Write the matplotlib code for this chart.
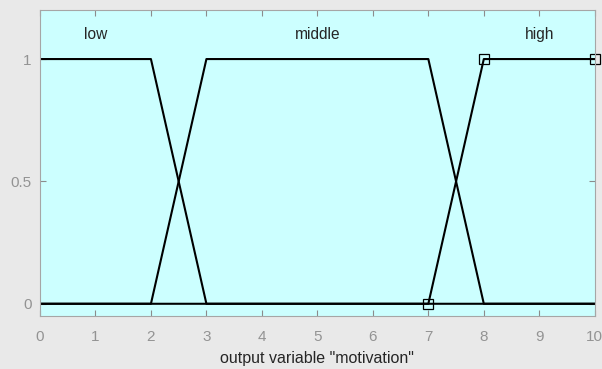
import matplotlib
matplotlib.use("Agg")
import matplotlib.pyplot as plt

# membership functions of output "motivation"
low_x = [0, 2, 3, 10]
low_y = [1, 1, 0, 0]
middle_x = [0, 2, 3, 7, 8, 10]
middle_y = [0, 0, 1, 1, 0, 0]
high_x = [0, 7, 8, 10]
high_y = [0, 0, 1, 1]
high_mark_x = [7, 8, 10]
high_mark_y = [0, 1, 1]

mf_names = ["low", "middle", "high"]
name_x = [1, 5, 9]
name_y = 1.1

xticks = list(range(0, 11))
yticks = [0, 0.5, 1]

plt.rcParams["font.family"] = ["Liberation Sans", "DejaVu Sans"]

fig = plt.figure(figsize=(6.02, 3.69), dpi=100, facecolor="#e9e9e9")
ax = fig.add_axes([0.0664, 0.1436, 0.9216, 0.829])
ax.set_facecolor("#ccffff")

ax.plot(low_x, low_y, color="k", lw=1.5)
ax.plot(middle_x, middle_y, color="k", lw=1.5)
ax.plot(high_x, high_y, color="k", lw=1.5)
ax.plot(high_mark_x, high_mark_y, ls="none", marker="s", ms=6.5,
        mfc="none", mec="k", mew=0.9, clip_on=False)

for name, xx in zip(mf_names, name_x):
    ax.text(xx, name_y, name, ha="center", va="center", fontsize=11.2, color="#262626")

ax.set_xlim(0, 10)
ax.set_ylim(-0.05, 1.2)
ax.set_xticks(xticks)
ax.set_yticks(yticks)
ax.set_yticklabels(["0", "0.5", "1"])
ax.tick_params(direction="in", length=4, color="#8c8c8c", labelcolor="#939393",
               labelsize=11, top=True, right=True)
ax.tick_params(axis="x", pad=10)
ax.tick_params(axis="y", pad=6)
for s in ax.spines.values():
    s.set_color("#a6a6a6")
    s.set_linewidth(0.8)

ax.set_xlabel('output variable "motivation"', fontsize=11.5, color="#262626", labelpad=5)

fig.savefig("out.png", dpi=100, facecolor=fig.get_facecolor())
